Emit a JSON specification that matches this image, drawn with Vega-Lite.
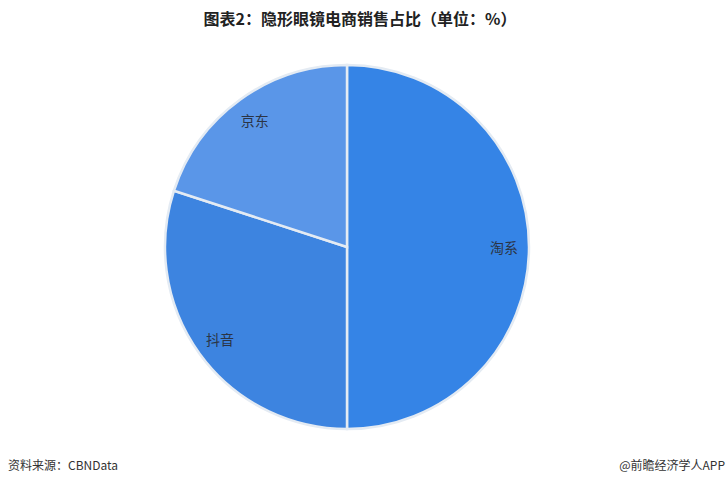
{
  "$schema": "https://vega.github.io/schema/vega-lite/v6.json",
  "autosize": "none",
  "width": 694,
  "height": 480,
  "padding": {"top": 7, "left": 0, "right": 34, "bottom": 0},
  "background": "white",
  "config": {"view": {"stroke": null}, "font": "Noto Sans CJK SC"},
  "title": {
    "text": "图表2：隐形眼镜电商销售占比（单位：%）",
    "font": "Noto Sans CJK SC",
    "fontSize": 16,
    "fontWeight": "bold",
    "color": "#222222",
    "anchor": "middle",
    "dx": 13,
    "dy": 25
  },
  "data": {
    "values": [
      {"platform": "淘系", "share": 50, "rank": 1},
      {"platform": "抖音", "share": 30, "rank": 2},
      {"platform": "京东", "share": 20, "rank": 3}
    ]
  },
  "layer": [
    {
      "mark": {"type": "arc", "outerRadius": 182, "stroke": "#E4EBF3", "strokeWidth": 2.5},
      "encoding": {
        "theta": {"field": "share", "type": "quantitative", "stack": true},
        "order": {"field": "rank", "type": "quantitative"},
        "color": {
          "field": "platform",
          "type": "nominal",
          "scale": {"domain": ["淘系", "抖音", "京东"], "range": ["#3584E6", "#3D84E0", "#5A96E8"]},
          "legend": null
        }
      }
    },
    {
      "mark": {"type": "text", "radius": 157, "fontSize": 14, "color": "#2B3445", "font": "Noto Sans CJK SC", "dy": 2},
      "encoding": {
        "theta": {"field": "share", "type": "quantitative", "stack": true},
        "order": {"field": "rank", "type": "quantitative"},
        "text": {"field": "platform", "type": "nominal"}
      }
    },
    {
      "data": {"values": [{"t": "资料来源：CBNData"}]},
      "mark": {"type": "text", "align": "left", "baseline": "middle", "fontSize": 12, "color": "#333333", "font": "Noto Sans CJK SC"},
      "encoding": {
        "text": {"field": "t", "type": "nominal"},
        "x": {"value": 8},
        "y": {"value": 459}
      }
    },
    {
      "data": {"values": [{"t": "@前瞻经济学人APP"}]},
      "mark": {"type": "text", "align": "right", "baseline": "middle", "fontSize": 12, "color": "#333333", "font": "Noto Sans CJK SC"},
      "encoding": {
        "text": {"field": "t", "type": "nominal"},
        "x": {"value": 725},
        "y": {"value": 459}
      }
    }
  ]
}
